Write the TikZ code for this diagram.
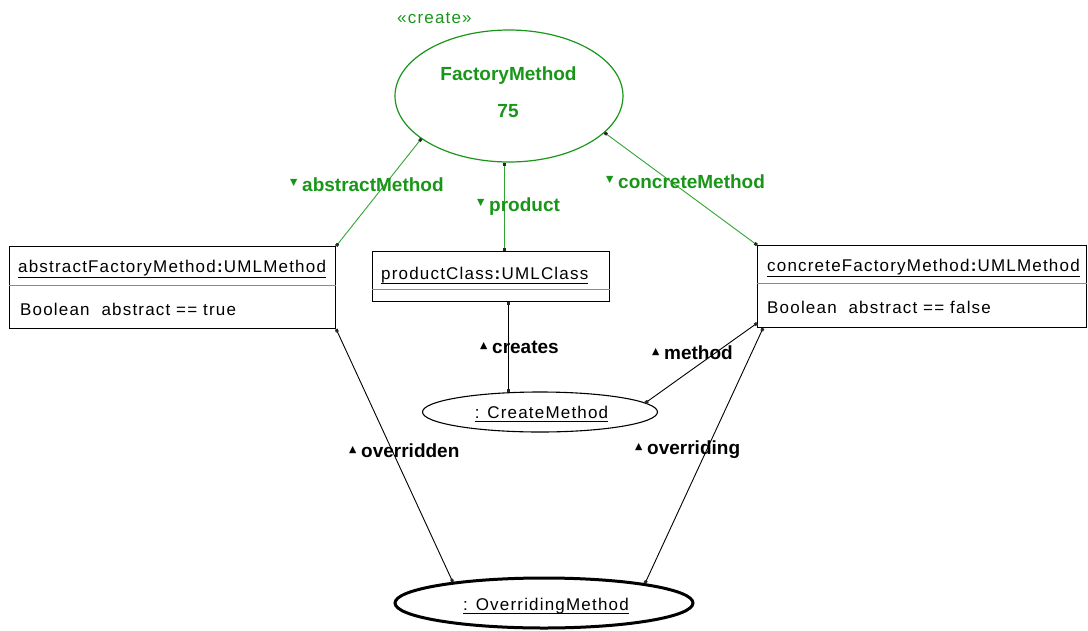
\documentclass[tikz,border=0pt]{standalone}
\usepackage{fontspec}
\usetikzlibrary{shapes.geometric,arrows.meta}

\newfontfamily\plainfont{Liberation Sans}[LetterSpace=7]
\newfontfamily\labelfont{Liberation Sans}
\newfontfamily\trifont{DejaVu Sans}

\definecolor{umlgreen}{RGB}{25,150,25}
\definecolor{linkgreen}{RGB}{50,165,50}
\definecolor{sepblue}{RGB}{120,140,185}
\definecolor{dotgray}{RGB}{40,40,40}

% direction marks in front of link names
\newcommand\trianDown{\makebox[12pt][l]{\raisebox{6pt}{\trifont\fontsize{9.5}{9.5}\selectfont ▼}}}
\newcommand\trianUp{\makebox[12pt][l]{\raisebox{5pt}{\trifont\fontsize{9.5}{9.5}\selectfont ▲}}}

\tikzset{
  txt/.style={font=\plainfont\fontsize{17}{17}\selectfont, inner sep=0pt, anchor=base west},
  ctxt/.style={font=\plainfont\fontsize{17}{17}\selectfont, inner sep=0pt, anchor=base},
  lbl/.style={font=\labelfont\bfseries\fontsize{19}{19}\selectfont, inner sep=0pt, anchor=base west},
  glbl/.style={lbl, text=umlgreen},
  objbox/.style={draw=black, line width=1.2pt, inner sep=0pt, anchor=north west},
  oval/.style={ellipse, draw=black, inner sep=0pt},
  ends/.style={{Square[length=3pt,width=3pt,color=dotgray]}-{Square[length=3pt,width=3pt,color=dotgray]}},
  glink/.style={draw=linkgreen, line width=0.9pt, ends},
  blink/.style={draw=black, line width=0.9pt, ends},
  uline/.style={line width=0.8pt},
  sepline/.style={draw=sepblue, line width=1pt}
}

\begin{document}
\begin{tikzpicture}[x=1pt,y=-1pt]
\fill[white] (0,0) rectangle (1088,630);
\useasboundingbox (0,0) rectangle (1088,630);

% pattern oval
\node[ellipse, draw=umlgreen, line width=1.2pt, minimum width=228pt, minimum height=132pt, inner sep=0pt] (fm) at (509,96) {};
\node[txt, text=umlgreen] (stereo) at (397,23) {«create»};
\node[lbl, anchor=base, text=umlgreen] (fmname) at (508.5,80) {FactoryMethod};
\node[lbl, anchor=base, text=umlgreen] (fmnum) at (508,117) {75};

% abstract method object
\node[objbox, minimum width=326pt, minimum height=82pt] (afm) at (9,246) {};
\node[txt] (afmt) at (18,272) {abstractFactoryMethod\textbf{:}UMLMethod};
\draw[uline] ([yshift=-5pt]afmt.base west) -- ([yshift=-5pt]afmt.base east);
\draw[sepline] (afm.west |- 0,285) -- (afm.east |- 0,285);
\node[txt] (afma) at (20,315) {Boolean\ \ abstract == true};

% product class object
\node[objbox, minimum width=237pt, minimum height=50pt] (pc) at (372,251) {};
\node[txt] (pct) at (381,279) {productClass\textbf{:}UMLClass};
\draw[uline] ([yshift=-4pt]pct.base west) -- ([yshift=-4pt]pct.base east);
\draw[sepline] (pc.west |- 0,289) -- (pc.east |- 0,289);

% concrete method object
\node[objbox, minimum width=329pt, minimum height=82pt] (cfm) at (757,245) {};
\node[txt] (cfmt) at (767,271) {concreteFactoryMethod\textbf{:}UMLMethod};
\draw[uline] ([yshift=-5pt]cfmt.base west) -- ([yshift=-5pt]cfmt.base east);
\draw[sepline] (cfm.west |- 0,283) -- (cfm.east |- 0,283);
\node[txt] (cfma) at (767,313) {Boolean\ \ abstract == false};

% anonymous objects
\node[oval, line width=1.1pt, minimum width=235pt, minimum height=40pt] (cm) at (540,412) {};
\node[ctxt] (cmt) at (541.5,418) {: CreateMethod};
\draw[uline] ([yshift=-3pt]cmt.base west) -- ([yshift=-3pt]cmt.base east);

\node[oval, line width=3pt, minimum width=298pt, minimum height=50pt] (om) at (544,603) {};
\node[ctxt] (omt) at (546,610) {: OverridingMethod};
\draw[uline] ([yshift=-3pt]omt.base west) -- ([yshift=-3pt]omt.base east);

% links of the pattern
\draw[glink] (fm.206.6) -- (afm.north east);
\draw[glink] (fm.266.5) -- (fm.266.5 |- pc.north);
\draw[glink] (fm.339.2) -- (cfm.north west);

% object links
\draw[blink] (cm.148.1 |- pc.south) -- (cm.148.1);
\draw[blink] (cm.5.3) -- ([yshift=5pt]cfm.south west);
\draw[blink] (afm.south east) -- (om.167.9);
\draw[blink] ([xshift=6pt]cfm.south west) -- (om.11.9);

% link names
\node[glbl] (labAbs) at (290,191) {\trianDown abstractMethod};
\node[glbl] (labProd) at (477,211) {\trianDown product};
\node[glbl] (labConc) at (606,188) {\trianDown concreteMethod};
\node[lbl] (labCreates) at (480,353) {\trianUp creates};
\node[lbl] (labMethod) at (652,359) {\trianUp method};
\node[lbl] (labOverridden) at (349,457) {\trianUp overridden};
\node[lbl] (labOverriding) at (635,454) {\trianUp overriding};
\end{tikzpicture}
\end{document}
